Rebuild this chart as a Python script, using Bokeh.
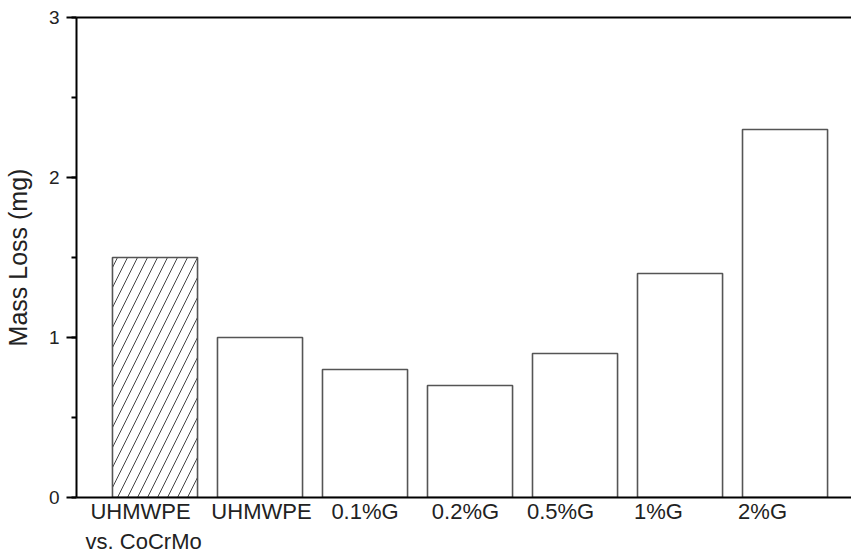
from bokeh.plotting import figure
from bokeh.models import (ColumnDataSource, FixedTicker, SingleIntervalTicker,
                          LinearAxis, Range1d)
from bokeh.embed import file_html
from bokeh.resources import INLINE

# ---- data ----
categories = ["UHMWPE\nvs. CoCrMo", "UHMWPE", "0.1%G", "0.2%G", "0.5%G", "1%G", "2%G"]
mass_loss = [1.5, 1.0, 0.8, 0.7, 0.9, 1.4, 2.3]
y_ticks = [0, 1, 2, 3]

# ---- styling (label nudges in category units, as in the original figure) ----
label_nudge = [-0.138, 0.014, 0.0, -0.043, -0.138, -0.205, -0.214]
FONT = "Liberation Sans"

xpos = list(range(1, len(categories) + 1))
src_h = ColumnDataSource(dict(x=xpos[:1], top=mass_loss[:1]))
src_p = ColumnDataSource(dict(x=xpos[1:], top=mass_loss[1:]))

p = figure(width=851, height=556, output_backend="svg", toolbar_location=None,
           x_range=Range1d(0.2524, 7.633), y_range=Range1d(0, 3),
           x_axis_type=None, y_axis_type=None,
           min_border_left=76, min_border_right=0, min_border_top=17,
           min_border_bottom=59)
p.outline_line_color = None
p.xgrid.visible = False
p.ygrid.visible = False
p.background_fill_color = "white"
p.border_fill_color = "white"

# plain bars
p.vbar(x="x", top="top", width=0.81, bottom=0, source=src_p,
       fill_color="white", line_color="#555555", line_width=1.6)
# hatched reference bar
p.vbar(x="x", top="top", width=0.81, bottom=0, source=src_h,
       fill_color="white", line_color="#555555", line_width=1.6,
       hatch_pattern="/", hatch_color="#444444", hatch_scale=20, hatch_weight=1)

# left axis
yax = LinearAxis(ticker=SingleIntervalTicker(interval=1, num_minor_ticks=2),
                 axis_label="Mass Loss (mg)")
yax.axis_line_width = 2
yax.axis_line_color = "black"
yax.major_tick_out = 10
yax.major_tick_in = 0
yax.major_tick_line_width = 2
yax.minor_tick_out = 5
yax.minor_tick_in = 0
yax.minor_tick_line_width = 2
yax.major_label_text_font = FONT
yax.major_label_text_font_size = "19px"
yax.major_label_text_color = "#222222"
yax.major_label_standoff = 7
yax.axis_label_text_font = FONT
yax.axis_label_text_font_size = "25px"
yax.axis_label_text_font_style = "normal"
yax.axis_label_text_color = "#222222"
yax.axis_label_standoff = 14
p.add_layout(yax, "left")

# bottom axis (first line of each category label)
split = [c.split("\n") for c in categories]
tick_pos = [x + d for x, d in zip(xpos, label_nudge)]
xax = LinearAxis(ticker=FixedTicker(ticks=tick_pos))
xax.major_label_overrides = {t: s[0] for t, s in zip(tick_pos, split)}
xax.axis_line_width = 2
xax.axis_line_color = "black"
xax.major_tick_out = 0
xax.major_tick_in = 0
xax.minor_tick_out = 0
xax.minor_tick_in = 0
xax.major_label_text_font = FONT
xax.major_label_text_font_size = "22px"
xax.major_label_text_color = "#222222"
xax.major_label_standoff = 1
p.add_layout(xax, "below")

# second line of multi-line category labels, on a stacked invisible axis
pos2 = [t + 0.03 for t, s in zip(tick_pos, split) if len(s) > 1]
txt2 = [s[1] for s in split if len(s) > 1]
xax2 = LinearAxis(ticker=FixedTicker(ticks=pos2))
xax2.major_label_overrides = dict(zip(pos2, txt2))
xax2.axis_line_color = None
xax2.major_tick_line_color = None
xax2.minor_tick_line_color = None
xax2.major_tick_out = 0
xax2.major_tick_in = 0
xax2.minor_tick_out = 0
xax2.minor_tick_in = 0
xax2.major_label_text_font = FONT
xax2.major_label_text_font_size = "22px"
xax2.major_label_text_color = "#222222"
xax2.major_label_standoff = 2
p.add_layout(xax2, "below")

# top frame line
tax = LinearAxis(ticker=FixedTicker(ticks=[]))
tax.axis_line_width = 2
tax.axis_line_color = "black"
tax.major_tick_out = 0
tax.minor_tick_out = 0
tax.major_label_text_font_size = "0px"
p.add_layout(tax, "above")

open("out.html", "w").write(file_html(p, INLINE))
